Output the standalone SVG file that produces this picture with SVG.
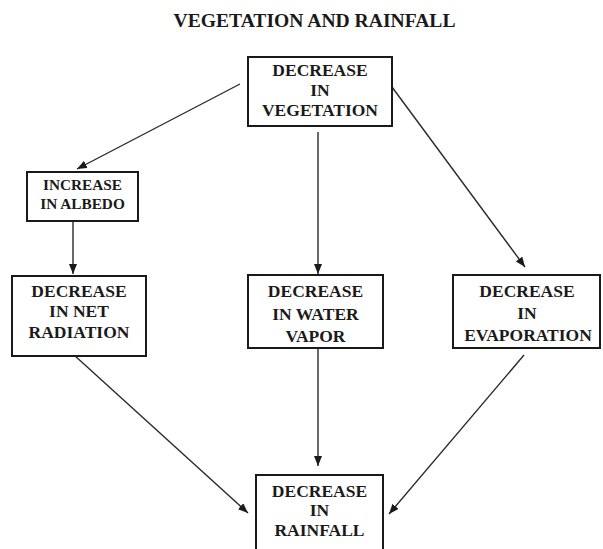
<svg xmlns="http://www.w3.org/2000/svg" width="603" height="549" viewBox="0 0 603 549">
<style>
text{font-family:"Liberation Serif","Times New Roman",serif;font-weight:bold;fill:#1a1a1a;text-anchor:middle}
.t{font-size:17.5px}
.s{font-size:15.3px}
.box{fill:#fff;stroke:#1a1a1a;stroke-width:2}
.c line{stroke:#2a2a2a;stroke-width:1.4;marker-end:url(#ah)}
</style>
<defs>
<marker id="ah" viewBox="0 0 10 8" refX="10" refY="4" markerWidth="10" markerHeight="8" markerUnits="userSpaceOnUse" orient="auto">
<path d="M0,0 L10,4 L0,8 Z" fill="#1a1a1a"/>
</marker>
</defs>
<rect width="603" height="549" fill="#fff"/>
<text x="314.5" y="27" style="font-size:19.6px">VEGETATION AND RAINFALL</text>
<g class="c">
<line x1="240" y1="84" x2="77" y2="169"/>
<line x1="318" y1="132" x2="318" y2="274"/>
<line x1="392" y1="87" x2="525" y2="267"/>
<line x1="73" y1="221" x2="73" y2="274"/>
<line x1="74" y1="355" x2="248" y2="513"/>
<line x1="318" y1="349" x2="318" y2="466"/>
<line x1="524" y1="355" x2="389" y2="514"/>
</g>
<g id="vegetation">
<rect class="box" x="248" y="57" width="144" height="69"/>
<text class="t" x="320" y="76">DECREASE</text>
<text class="t" x="320" y="96">IN</text>
<text class="t" x="320" y="116">VEGETATION</text>
</g>
<g id="albedo">
<rect class="box" x="27" y="172" width="111" height="49"/>
<text class="s" x="82.5" y="190">INCREASE</text>
<text class="s" x="82.5" y="209">IN ALBEDO</text>
</g>
<g id="radiation">
<rect class="box" x="12" y="276" width="134" height="80"/>
<text class="t" x="79" y="297">DECREASE</text>
<text class="t" x="79" y="317">IN NET</text>
<text class="t" x="79" y="338">RADIATION</text>
</g>
<g id="watervapor">
<rect class="box" x="248" y="275" width="135" height="73"/>
<text class="t" x="315.5" y="297">DECREASE</text>
<text class="t" x="315.5" y="320">IN WATER</text>
<text class="t" x="315.5" y="342">VAPOR</text>
</g>
<g id="evaporation">
<rect class="box" x="453" y="275" width="147" height="73"/>
<text class="t" x="527" y="297">DECREASE</text>
<text class="t" x="527" y="319">IN</text>
<text class="t" x="528" y="341">EVAPORATION</text>
</g>
<g id="rainfall">
<rect class="box" x="256" y="475" width="127" height="80"/>
<text class="t" x="319.5" y="497">DECREASE</text>
<text class="t" x="319.5" y="516">IN</text>
<text class="t" x="319.5" y="536">RAINFALL</text>
</g>
</svg>
